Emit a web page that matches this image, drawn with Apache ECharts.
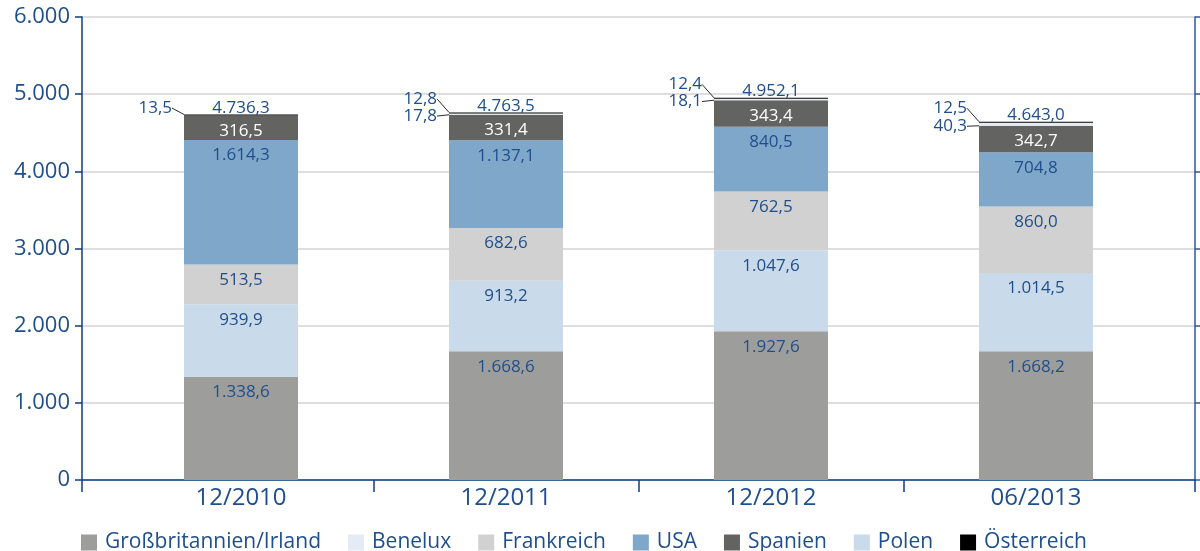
<!DOCTYPE html>
<html>
<head>
<meta charset="utf-8">
<script src="https://cdn.jsdelivr.net/npm/echarts@6/dist/echarts.min.js"></script>
<style>
  html, body { margin: 0; padding: 0; background: #fff; }
  #chart { width: 1200px; height: 551px; }
</style>
</head>
<body>
<div id="chart"></div>
<script>
// Stichtage
const categories = ['12/2010', '12/2011', '12/2012', '06/2013']

// Werte je Region (Mio. €), Reihenfolge im Stapel von unten nach oben
const grossbritannien = [1338.6, 1668.6, 1927.6, 1668.2]
const polen = [939.9, 913.2, 1047.6, 1014.5]
const frankreich = [513.5, 682.6, 762.5, 860.0]
const usa = [1614.3, 1137.1, 840.5, 704.8]
const spanien = [316.5, 331.4, 343.4, 342.7]
const benelux = [null, 17.8, 18.1, 40.3]
const oesterreich = [13.5, 12.8, 12.4, 12.5]
const summen = [4736.3, 4763.5, 4952.1, 4643.0]

const yTicks = [0, 1000, 2000, 3000, 4000, 5000, 6000]

const blue = '#1f4e8c'
const axisBlue = '#0d3e83'
const font = 'Open Sans'

function fmt (v, dec) {
  const s = v.toFixed(dec)
  const parts = s.split('.')
  const int = parts[0].replace(/\B(?=(\d{3})+(?!\d))/g, '.')
  return parts.length > 1 ? int + ',' + parts[1] : int
}

function inner (name, arr, color, textColor) {
  return {
    name: name,
    type: 'bar',
    stack: 'total',
    xAxisIndex: 1,
    yAxisIndex: 2,
    barWidth: 114,
    itemStyle: { color: color },
    label: {
      show: true,
      position: 'insideTop',
      distance: 7,
      color: textColor || blue,
      fontFamily: font,
      fontSize: 17,
      formatter: p => fmt(p.value, 1)
    },
    data: arr.map(v => v == null ? '-' : v)
  }
}

// kleine Werte links neben dem Balken, mit Hinweislinie
function side (name, arr, color, dyFn) {
  return {
    name: name,
    type: 'bar',
    stack: 'total',
    xAxisIndex: 1,
    yAxisIndex: 2,
    barWidth: 114,
    itemStyle: { color: color },
    labelLine: { show: true, lineStyle: { color: '#2b2b2b', width: 1 } },
    labelLayout: p => ({ dx: -12, dy: dyFn(p.dataIndex) }),
    label: {
      show: true,
      position: 'left',
      distance: 0,
      color: blue,
      fontFamily: font,
      fontSize: 17,
      formatter: p => fmt(p.value, 1)
    },
    data: arr.map(v => v == null ? '-' : v)
  }
}

const chart = echarts.init(document.getElementById('chart'), null, { renderer: 'canvas' })

chart.setOption({
  animation: false,
  backgroundColor: '#fff',
  textStyle: { fontFamily: font },
  grid: [
    { left: 82, right: 5, top: 17, bottom: 71, containLabel: false },
    { left: 108.5, right: 31.5, top: 17, bottom: 71, containLabel: false }
  ],
  legend: {
    left: 76,
    top: 527,
    icon: 'rect',
    itemWidth: 16,
    itemHeight: 16,
    itemGap: 27,
    textStyle: { color: blue, fontSize: 21, fontFamily: font, padding: [0, 0, 0, 3] },
    data: ['Großbritannien/Irland', 'Benelux', 'Frankreich', 'USA', 'Spanien', 'Polen', 'Österreich']
  },
  xAxis: [
    {
      // sichtbare Achse mit überstehenden Enden
      type: 'value',
      gridIndex: 0,
      min: -0.6,
      max: 3.6,
      axisLine: { show: true, onZero: false, lineStyle: { color: axisBlue, width: 1.5 } },
      axisTick: {
        show: true,
        customValues: [-0.6, 0.5, 1.5, 2.5, 3.6],
        length: 12,
        lineStyle: { color: axisBlue, width: 1.5 }
      },
      axisLabel: {
        customValues: [0, 1, 2, 3],
        margin: 6,
        color: blue,
        fontSize: 24,
        fontFamily: font,
        formatter: v => categories[Math.round(v)]
      },
      splitLine: { show: false }
    },
    {
      type: 'category',
      gridIndex: 1,
      data: categories,
      show: false
    }
  ],
  yAxis: [
    {
      type: 'value',
      gridIndex: 0,
      min: yTicks[0],
      max: yTicks[yTicks.length - 1],
      interval: 1000,
      axisLine: { show: true, onZero: false, lineStyle: { color: axisBlue, width: 1.5 } },
      axisTick: { show: true, length: 7, lineStyle: { color: axisBlue, width: 1.5 } },
      axisLabel: {
        margin: 12,
        color: blue,
        fontSize: 22,
        fontFamily: font,
        formatter: v => fmt(v, 0)
      },
      splitLine: { show: true, lineStyle: { color: '#d3d3d3', width: 1.5 } }
    },
    {
      type: 'value',
      gridIndex: 0,
      position: 'right',
      min: yTicks[0],
      max: yTicks[yTicks.length - 1],
      interval: 1000,
      axisLine: { show: true, onZero: false, lineStyle: { color: '#2d5a95', width: 1.5 } },
      axisTick: { show: true, length: 5, lineStyle: { color: '#2d5a95', width: 1.5 } },
      axisLabel: { show: false },
      splitLine: { show: false }
    },
    {
      type: 'value',
      gridIndex: 1,
      min: yTicks[0],
      max: yTicks[yTicks.length - 1],
      show: false,
      splitLine: { show: false }
    }
  ],
  series: [
    inner('Großbritannien/Irland', grossbritannien, '#9d9d9c'),
    inner('Polen', polen, '#c9daea'),
    inner('Frankreich', frankreich, '#d0d1d0'),
    inner('USA', usa, '#7fa7c9'),
    inner('Spanien', spanien, '#636362', '#ffffff'),
    side('Benelux', benelux, '#e4ebf4', () => 2),
    side('Österreich', oesterreich, '#000000', i => benelux[i] == null ? -7 : -14),
    {
      name: 'Summe',
      type: 'bar',
      stack: 'total',
      xAxisIndex: 1,
      yAxisIndex: 2,
      barWidth: 114,
      itemStyle: { color: 'transparent' },
      label: {
        show: true,
        position: 'top',
        distance: -2,
        color: blue,
        fontFamily: font,
        fontSize: 17,
        formatter: p => fmt(summen[p.dataIndex], 1)
      },
      data: summen.map(() => 0)
    }
  ]
})
</script>
</body>
</html>
